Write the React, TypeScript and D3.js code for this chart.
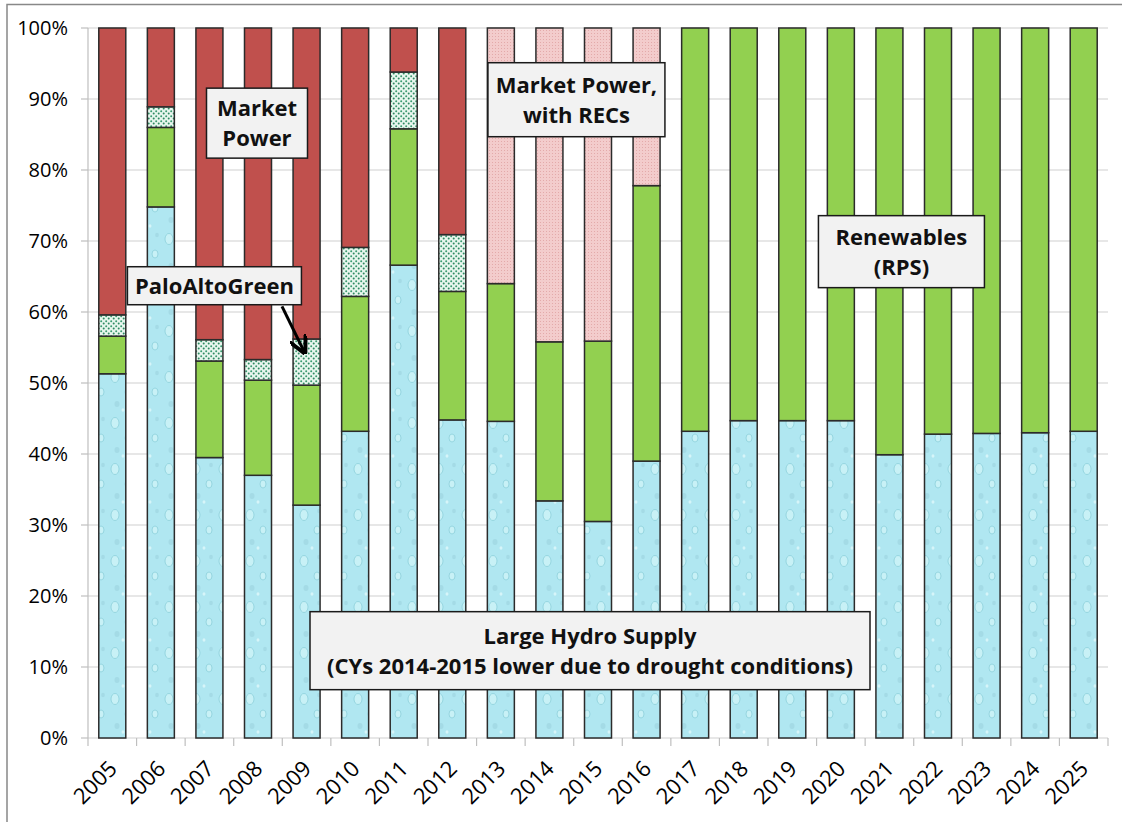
import React from "react";
import * as d3 from "d3";

const years = ["2005","2006","2007","2008","2009","2010","2011","2012","2013","2014","2015","2016","2017","2018","2019","2020","2021","2022","2023","2024","2025"];
const hydro = [51.3,74.8,39.5,37.0,32.8,43.2,66.6,44.8,44.6,33.4,30.5,39.0,43.2,44.7,44.7,44.7,39.9,42.8,42.9,43.0,43.2];
const renewables = [5.3,11.2,13.6,13.4,16.9,19.0,19.2,18.1,19.4,22.4,25.4,38.8,56.8,55.3,55.3,55.3,60.1,57.2,57.1,57.0,56.8];
const paloAltoGreen = [3.0,2.9,3.0,2.9,6.5,6.9,8.0,8.0,0,0,0,0,0,0,0,0,0,0,0,0,0];
const marketPower = [40.4,11.1,43.9,46.7,43.8,30.9,6.2,29.1,0,0,0,0,0,0,0,0,0,0,0,0,0];
const marketPowerRECs = [0,0,0,0,0,0,0,0,36.0,44.2,44.1,22.2,0,0,0,0,0,0,0,0,0];
const yTicks = [0,10,20,30,40,50,60,70,80,90,100];

const seriesKeys = ["hydro","renewables","pag","market","recs"];
const fills: Record<string,string> = {
  hydro: "url(#hydroPat)",
  renewables: "#92d050",
  pag: "url(#pagPat)",
  market: "#c0504d",
  recs: "url(#recPat)",
};

const FONT = "'Open Sans', 'DejaVu Sans', sans-serif";

export default function App() {
  const W = 1122, H = 822;
  const x0 = 88, x1 = 1108, yTop = 28, yBot = 738;
  const x = d3.scaleBand<string>().domain(years).range([x0, x1]).padding(0);
  const y = d3.scaleLinear().domain([0, 100]).range([yBot, yTop]);
  const barW = 27;

  const rows = years.map((yr, i) => ({
    year: yr,
    hydro: hydro[i],
    renewables: renewables[i],
    pag: paloAltoGreen[i],
    market: marketPower[i],
    recs: marketPowerRECs[i],
  }));
  const stacked = d3.stack<any>().keys(seriesKeys)(rows);

  const cx = (yr: string) => (x(yr) as number) + x.bandwidth() / 2;

  const boxes = [
    { lines: ["Market", "Power"], cx: cx("2008") - 1, cy: y(86.6), w: 101, h: 70 },
    { lines: ["PaloAltoGreen"], cx: cx("2007") + 5, cy: y(63.7), w: 174, h: 38 },
    { lines: ["Market Power,", "with RECs"], cx: cx("2014") + 27, cy: y(89.9), w: 177, h: 74 },
    { lines: ["Renewables", "(RPS)"], cx: cx("2021") + 12, cy: y(68.5), w: 166, h: 72 },
    { lines: ["Large Hydro Supply", "(CYs 2014-2015 lower due to drought conditions)"], cx: cx("2015") - 8, cy: y(12.3), w: 560, h: 78 },
  ];

  const ticksX = years.map((yr) => x(yr) as number).concat([x1]);

  return (
    <svg width={W} height={H} style={{ position: "absolute", left: 0, top: 0, background: "#fff" }} fontFamily={FONT}>
      <defs>
        <pattern id="hydroPat" patternUnits="userSpaceOnUse" width="27" height="46">
          <rect width="27" height="46" fill="#b0e7f1" />
          <ellipse cx="7" cy="9" rx="4" ry="5.5" fill="#c8f1f6" stroke="#8ccfdb" strokeWidth="0.8" />
          <ellipse cx="20" cy="24" rx="3" ry="4" fill="#c8f1f6" stroke="#8ccfdb" strokeWidth="0.8" />
          <ellipse cx="9" cy="36" rx="2.5" ry="3" fill="#a4dbe6" />
          <ellipse cx="22" cy="5" rx="1.8" ry="2.2" fill="#a4dbe6" />
          <ellipse cx="15" cy="42" rx="1.5" ry="1.8" fill="#d6f5f9" />
        </pattern>
        <pattern id="pagPat" patternUnits="userSpaceOnUse" width="5" height="5">
          <rect width="5" height="5" fill="#e8f6ee" />
          <circle cx="1.2" cy="1.2" r="1" fill="#3a9a70" />
          <circle cx="3.7" cy="3.6" r="1" fill="#2f8a62" />
        </pattern>
        <pattern id="recPat" patternUnits="userSpaceOnUse" width="3" height="3">
          <rect width="3" height="3" fill="#f3cccc" />
          <rect x="0" y="0" width="1" height="1" fill="#e3aaaa" />
        </pattern>
        <marker id="arrowHead" viewBox="0 0 10 10" refX="9" refY="5" markerWidth="6" markerHeight="6" orient="auto">
          <path d="M0,0 L10,5 L0,10" fill="none" stroke="#000" strokeWidth="2.2" />
        </marker>
      </defs>

      {/* outer frame */}
      <path d={`M7,${H + 2} L7,4.5 L${W + 2},4.5`} fill="none" stroke="#888" strokeWidth="1.5" />

      {/* gridlines */}
      {yTicks.map((t) => (
        <line key={t} x1={x0} x2={x1} y1={y(t)} y2={y(t)} stroke="#d0d0d0" strokeWidth="1.2" />
      ))}
      {/* y axis */}
      <line x1={x0} x2={x0} y1={yTop} y2={yBot} stroke="#bfbfbf" strokeWidth="1.2" />
      {yTicks.map((t) => (
        <g key={"yt" + t}>
          <line x1={x0 - 7} x2={x0} y1={y(t)} y2={y(t)} stroke="#bfbfbf" strokeWidth="1.2" />
          <text x={68} y={y(t)} dy="0.36em" textAnchor="end" fontSize="20" fill="#000">{t}%</text>
        </g>
      ))}
      {/* x ticks */}
      {ticksX.map((tx, i) => (
        <line key={"xt" + i} x1={tx} x2={tx} y1={yBot} y2={yBot + 8} stroke="#bfbfbf" strokeWidth="1.2" />
      ))}

      {/* bars */}
      {stacked.map((s) => (
        <g key={s.key}>
          {s.map((d: any, i: number) => {
            const h = y(d[0]) - y(d[1]);
            if (h <= 0.01) return null;
            return (
              <rect
                key={i}
                x={cx(years[i]) - barW / 2}
                y={y(d[1])}
                width={barW}
                height={h}
                fill={fills[s.key]}
                stroke="#2b2b2b"
                strokeWidth="1.5"
              />
            );
          })}
        </g>
      ))}

      {/* x labels */}
      {years.map((yr) => (
        <text key={"xl" + yr} transform={`translate(${cx(yr) + 6},${yBot + 32}) rotate(-45)`} textAnchor="end" fontSize="22" fill="#000">
          {yr}
        </text>
      ))}

      {/* annotation boxes */}
      {boxes.map((b, i) => (
        <g key={"b" + i}>
          <rect x={b.cx - b.w / 2} y={b.cy - b.h / 2} width={b.w} height={b.h} fill="#f2f2f2" stroke="#1a1a1a" strokeWidth="1.5" />
          {b.lines.map((ln, j) => (
            <text key={j} x={b.cx} y={b.cy + (j - (b.lines.length - 1) / 2) * 30} dy="0.36em" textAnchor="middle" fontSize="22" fontWeight="bold" fill="#111">
              {ln}
            </text>
          ))}
        </g>
      ))}

      {/* arrow */}
      <line x1={cx("2008") + 24} y1={y(60.8)} x2={cx("2009") - 2} y2={y(54.3)} stroke="#000" strokeWidth="3" markerEnd="url(#arrowHead)" />
    </svg>
  );
}
